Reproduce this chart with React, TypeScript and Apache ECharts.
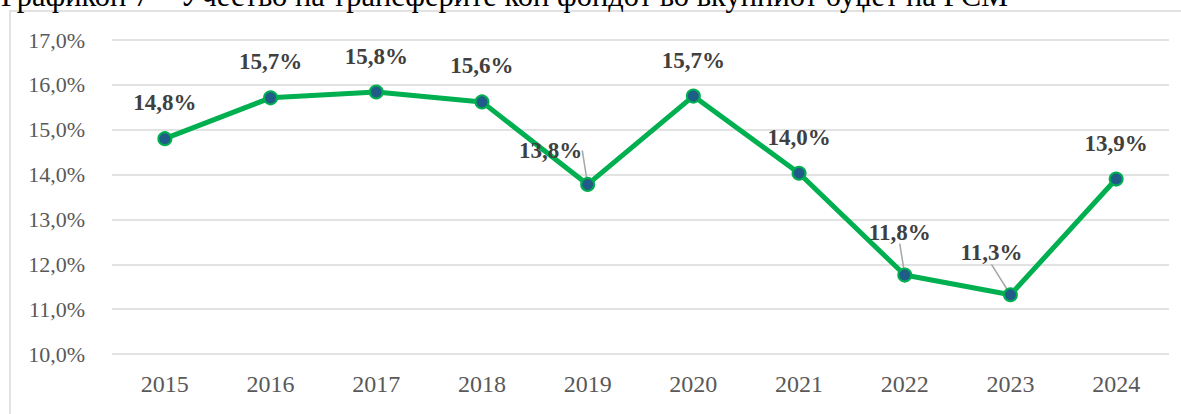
import React, { useEffect, useRef } from "react";
import * as echarts from "echarts";

const TITLE = "Графикон 7 – Учество на трансферите кон фондот во вкупниот буџет на РСМ";
const years = ["2015", "2016", "2017", "2018", "2019", "2020", "2021", "2022", "2023", "2024"];
const shares = [14.8, 15.7, 15.8, 15.6, 13.8, 15.7, 14.0, 11.8, 11.3, 13.9];
const plotted = [14.8, 15.71, 15.84, 15.62, 13.78, 15.75, 14.03, 11.76, 11.32, 13.9];
const yMin = 10;
const yMax = 17;
const yStep = 1;

const fmt = (v: number) => v.toFixed(1).replace(".", ",") + "%";

// label moves (dx, dy) for labels that sit off their point with a leader line
const labelMoves: Record<number, [number, number]> = { 4: [-37, 2], 7: [-5, -7], 8: [-19, -6] };

export default function App() {
  const ref = useRef<HTMLDivElement>(null);
  useEffect(() => {
    const chart = echarts.init(ref.current!, null, { renderer: "svg" });
    chart.setOption({
      animation: false,
      backgroundColor: "#ffffff",
      graphic: [
        {
          type: "rect",
          shape: { x: 10, y: 11, width: 1190, height: 430 },
          style: { fill: "none", stroke: "#d9d9d9", lineWidth: 1.5 },
          silent: true,
        },
        {
          type: "text",
          left: 1,
          top: -20,
          style: { text: TITLE, font: "30.5px 'Liberation Serif'", fill: "#000000" },
        },
      ],
      grid: { left: 112, right: 12, top: 40, bottom: 60 },
      xAxis: {
        type: "category",
        data: years,
        boundaryGap: true,
        axisLine: { show: false },
        axisTick: { show: false },
        axisLabel: { color: "#595959", fontFamily: "Liberation Serif", fontSize: 24, margin: 18 },
      },
      yAxis: {
        type: "value",
        min: yMin,
        max: yMax,
        interval: yStep,
        axisLine: { show: false },
        axisTick: { show: false },
        splitLine: { lineStyle: { color: "#d9d9d9", width: 1.5 } },
        axisLabel: {
          color: "#595959",
          fontFamily: "Liberation Serif",
          fontSize: 22,
          margin: 27,
          formatter: (v: number) => fmt(v),
        },
      },
      series: [
        {
          type: "line",
          data: plotted.map((v, i) => ({
            value: v,
            labelLine: { show: !!labelMoves[i], lineStyle: { color: "#a6a6a6", width: 1.5 } },
          })),
          symbol: "circle",
          symbolSize: 13,
          lineStyle: { color: "#00b050", width: 5 },
          itemStyle: { color: "#1f5c87", borderColor: "#00b050", borderWidth: 2 },
          label: {
            show: true,
            position: "top",
            distance: 17,
            color: "#404040",
            fontFamily: "Liberation Serif",
            fontWeight: "bold",
            fontSize: 23,
            formatter: (p: any) => fmt(shares[p.dataIndex]),
          },
          labelLayout: (p: any) => {
            const m = labelMoves[p.dataIndex];
            return m ? { dx: m[0], dy: m[1] } : {};
          },
          z: 3,
        },
      ],
    });
    return () => chart.dispose();
  }, []);
  return (
    <div
      ref={ref}
      style={{ position: "fixed", left: 0, top: 0, width: 1181, height: 414 }}
    />
  );
}
